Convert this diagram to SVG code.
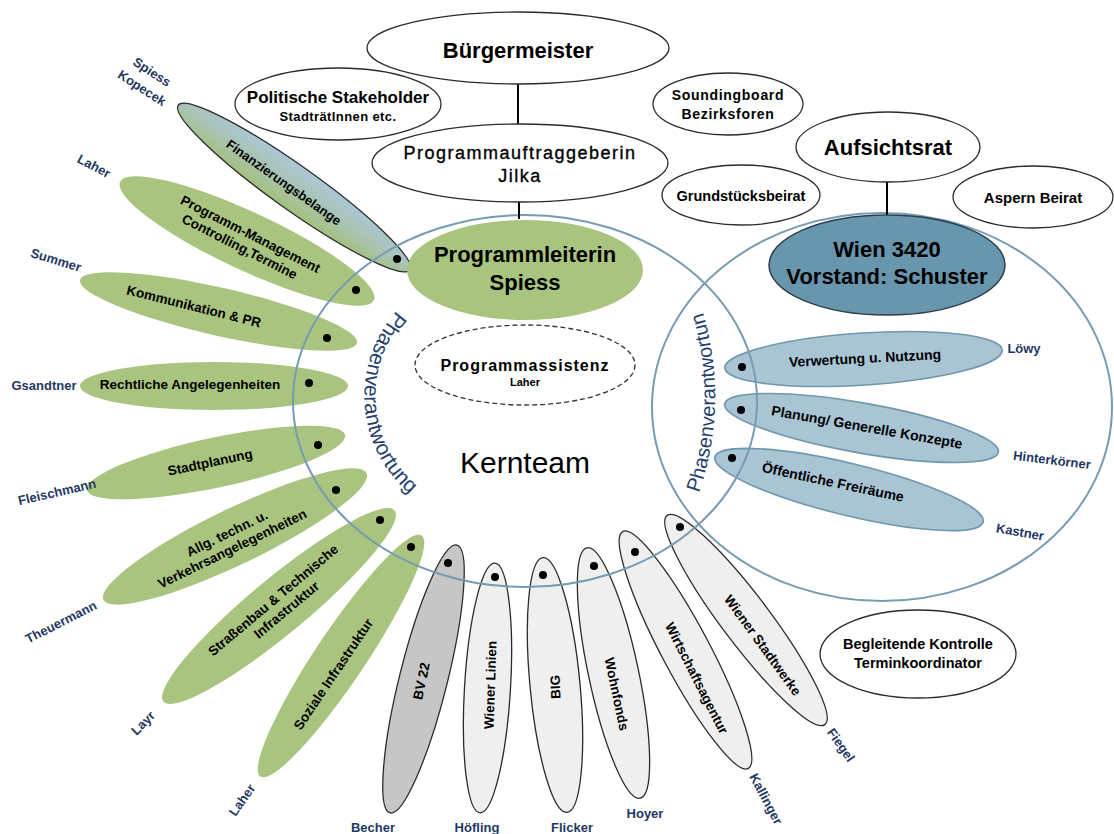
<svg xmlns="http://www.w3.org/2000/svg" width="1114" height="834" viewBox="0 0 1114 834">
<style>
text{font-family:"Liberation Sans",Arial,Helvetica,sans-serif;text-anchor:middle;fill:#000}
.b{font-weight:bold}
.pt{font-weight:bold;font-size:13.5px}
.rt{font-weight:bold;font-size:14px}
.lb{font-weight:bold;font-size:13px;fill:#1f3864}
.green{fill:#a9c47f}
.grey{fill:#efefef;stroke:#2b2b2b;stroke-width:1.3}
.dgrey{fill:#c6c6c6;stroke:#2b2b2b;stroke-width:1.3}
.blue{fill:#a9c4d3;stroke:#6f97ad;stroke-width:1.6}
.node{fill:#fff;stroke:#2b2b2b;stroke-width:1.3}
.ring{fill:none;stroke:#769bb2;stroke-width:2}
.ph{font-size:21px;fill:#1f3f6e}
.dot{fill:#000}
.con{stroke:#000;stroke-width:2;fill:none}
.med{font-size:18px;letter-spacing:1.5px;stroke:#000;stroke-width:0.35px}
</style>
<defs>
<linearGradient id="gFin" x1="0" y1="1" x2="0" y2="0">
<stop offset="0" stop-color="#a3c07a"/>
<stop offset="0.5" stop-color="#a9c3b2"/>
<stop offset="1" stop-color="#abc7d8"/>
</linearGradient>
<path id="arcL" d="M 396.6 311 A 128 128 0 0 0 417.7 500"/>
<path id="arcR" d="M 699 493 A 296 296 0 0 0 699 300"/>
</defs>
<rect width="1114" height="834" fill="#fff"/>

<!-- left petals -->
<g id="p-finanz">
<ellipse transform="translate(294 187.5) rotate(35.4)" rx="142" ry="22" fill="url(#gFin)" stroke="#2b2b2b" stroke-width="1.3"/>
<text class="pt" transform="translate(284 182) rotate(35.4)" y="5" style="font-size:13px">Finanzierungsbelange</text>
<circle class="dot" cx="397" cy="259" r="4"/>
<text class="lb" transform="translate(152 72) rotate(33)" y="4.5">Spiess</text>
<text class="lb" transform="translate(142 88) rotate(33)" y="4.5">Kopecek</text>
</g>
<g id="p-programm">
<ellipse class="green" transform="translate(247 241) rotate(25)" rx="140" ry="29"/>
<text class="pt" transform="translate(247 241) rotate(27)"><tspan x="0" y="-3">Programm-Management</tspan><tspan x="-4" y="13">Controlling,Termine</tspan></text>
<circle class="dot" cx="356" cy="290" r="4"/>
<text class="lb" transform="translate(94 166) rotate(28)" y="4.5">Laher</text>
</g>
<g id="p-komm">
<ellipse class="green" transform="translate(218.5 311.5) rotate(12.8)" rx="142" ry="24"/>
<text class="pt" transform="translate(194 306) rotate(14)" y="5">Kommunikation &amp; PR</text>
<circle class="dot" cx="327" cy="338" r="4"/>
<text class="lb" transform="translate(56 260) rotate(17)" y="4.5">Summer</text>
</g>
<g id="p-recht">
<ellipse class="green" cx="214" cy="386" rx="134" ry="24"/>
<text class="pt" x="190" y="389">Rechtliche Angelegenheiten</text>
<circle class="dot" cx="309" cy="383" r="4"/>
<text class="lb" x="44" y="390">Gsandtner</text>
</g>
<g id="p-stadt">
<ellipse class="green" transform="translate(216 462.5) rotate(-12)" rx="132" ry="25"/>
<text class="pt" transform="translate(210 462) rotate(-12)" y="5">Stadtplanung</text>
<circle class="dot" cx="318" cy="445" r="4"/>
<text class="lb" transform="translate(57 492) rotate(-13)" y="4.5">Fleischmann</text>
</g>
<g id="p-allg">
<ellipse class="green" transform="translate(235 536.5) rotate(-25.7)" rx="146" ry="28"/>
<text class="pt" transform="translate(229 542) rotate(-26)"><tspan x="2" y="-4">Allg. techn. u.</tspan><tspan x="0" y="12">Verkehrsangelegenheiten</tspan></text>
<circle class="dot" cx="336" cy="490" r="4"/>
<text class="lb" transform="translate(61 622) rotate(-27)" y="4.5">Theuermann</text>
</g>
<g id="p-strasse">
<ellipse class="green" transform="translate(279 606) rotate(-39.6)" rx="150" ry="28"/>
<text class="pt" transform="translate(278 606) rotate(-40)"><tspan x="0" y="-3">Straßenbau &amp; Technische</tspan><tspan x="4" y="13">Infrastruktur</tspan></text>
<circle class="dot" cx="380" cy="520" r="4"/>
<text class="lb" transform="translate(143 723) rotate(-45)" y="4.5">Layr</text>
</g>
<g id="p-sozial">
<ellipse class="green" transform="translate(341 656) rotate(-56.2)" rx="145" ry="25"/>
<text class="pt" transform="translate(333 674) rotate(-56)" y="5">Soziale Infrastruktur</text>
<circle class="dot" cx="411" cy="547" r="4"/>
<text class="lb" transform="translate(242 800) rotate(-55)" y="4.5">Laher</text>
</g>

<!-- bottom petals -->
<g id="p-bv22">
<ellipse class="dgrey" transform="translate(423.5 679) rotate(-76)" rx="138" ry="24"/>
<text class="pt" transform="translate(421 681) rotate(-78)" y="5">BV 22</text>
<circle class="dot" cx="448" cy="563" r="4"/>
<text class="lb" x="373" y="832">Becher</text>
</g>
<g id="p-linien">
<ellipse class="grey" transform="translate(487.5 688) rotate(-86.6)" rx="125" ry="23"/>
<text class="pt" transform="translate(490 685) rotate(-88)" y="5">Wiener Linien</text>
<circle class="dot" cx="495" cy="577" r="4"/>
<text class="lb" x="477" y="832">Höfling</text>
</g>
<g id="p-big">
<ellipse class="grey" transform="translate(555 685) rotate(-95.4)" rx="128" ry="25"/>
<text class="pt" transform="translate(555 687) rotate(-92)" y="5">BIG</text>
<circle class="dot" cx="543" cy="575" r="4"/>
<text class="lb" x="572" y="832">Flicker</text>
</g>
<g id="p-wohnfonds">
<ellipse class="grey" transform="translate(613.5 673) rotate(78)" rx="128" ry="25"/>
<text class="pt" transform="translate(617 694) rotate(78)" y="5">Wohnfonds</text>
<circle class="dot" cx="594" cy="566" r="4"/>
<text class="lb" x="645" y="818">Hoyer</text>
</g>
<g id="p-wirtschaft">
<ellipse class="grey" transform="translate(685.5 650) rotate(62.1)" rx="134" ry="24"/>
<text class="pt" transform="translate(697 678) rotate(63)" y="5">Wirtschaftsagentur</text>
<circle class="dot" cx="635" cy="552" r="4"/>
<text class="lb" transform="translate(766 799) rotate(62)" y="4.5">Kallinger</text>
</g>
<g id="p-stadtwerke">
<ellipse class="grey" transform="translate(746 620) rotate(53)" rx="131" ry="24"/>
<text class="pt" transform="translate(763 645) rotate(54)" y="5">Wiener Stadtwerke</text>
<circle class="dot" cx="680" cy="527" r="4"/>
<text class="lb" transform="translate(841 745) rotate(55)" y="4.5">Fiegel</text>
</g>

<!-- right petals -->
<g id="p-verwertung">
<ellipse class="blue" transform="translate(863.5 359) rotate(-3.7)" rx="139" ry="26"/>
<text class="rt" transform="translate(865 358) rotate(-3)" y="5">Verwertung u. Nutzung</text>
<circle class="dot" cx="742" cy="367" r="4"/>
<text class="lb" x="1024" y="353">Löwy</text>
</g>
<g id="p-planung">
<ellipse class="blue" transform="translate(861.5 428) rotate(10)" rx="139" ry="25"/>
<text class="rt" transform="translate(867 427) rotate(10)" y="5">Planung/ Generelle Konzepte</text>
<circle class="dot" cx="741" cy="410" r="4"/>
<text class="lb" transform="translate(1052 460) rotate(7)" y="4.5">Hinterkörner</text>
</g>
<g id="p-freiraeume">
<ellipse class="blue" transform="translate(849 489.5) rotate(13.6)" rx="138" ry="26"/>
<text class="rt" transform="translate(833 482) rotate(12)" y="5">Öffentliche Freiräume</text>
<circle class="dot" cx="732" cy="458" r="4"/>
<text class="lb" transform="translate(1020 532) rotate(10)" y="4.5">Kastner</text>
</g>

<!-- regions -->
<g id="regions">
<ellipse id="kernteam-ring" class="ring" cx="525" cy="401" rx="232" ry="186"/>
<ellipse id="wien-ring" class="ring" cx="882" cy="407" rx="230" ry="194"/>
<text class="ph" style="text-anchor:start"><textPath href="#arcL">Phasenverantwortung</textPath></text>
<text class="ph" style="text-anchor:start;font-size:20px"><textPath href="#arcR">Phasenverantwortun</textPath></text>
<text x="525" y="473" style="font-size:30px">Kernteam</text>
</g>

<!-- connectors -->
<g id="connectors">
<line class="con" x1="518" y1="84" x2="518" y2="125"/>
<line class="con" x1="519" y1="202" x2="519" y2="219"/>
<line class="con" x1="887" y1="182" x2="887" y2="215"/>
</g>

<!-- nodes -->
<g id="n-buergermeister">
<ellipse class="node" cx="518" cy="48" rx="151" ry="36"/>
<text class="b" x="518" y="58" style="font-size:22px">Bürgermeister</text>
</g>
<g id="n-politische">
<ellipse class="node" cx="338" cy="104" rx="103" ry="36"/>
<text class="b" x="338" y="103" style="font-size:17px">Politische Stakeholder</text>
<text class="b" x="338" y="121" style="font-size:13px;letter-spacing:0.4px">StadträtInnen etc.</text>
</g>
<g id="n-auftraggeberin">
<ellipse class="node" cx="520" cy="163" rx="148" ry="39"/>
<text class="med" x="520" y="159">Programmauftraggeberin</text>
<text class="med" x="520" y="182">Jilka</text>
</g>
<g id="n-soundingboard">
<ellipse class="node" cx="728" cy="104" rx="75" ry="31"/>
<text class="b" x="728" y="100" style="font-size:14px;letter-spacing:0.7px">Soundingboard</text>
<text class="b" x="728" y="119" style="font-size:14px;letter-spacing:0.7px">Bezirksforen</text>
</g>
<g id="n-aufsichtsrat">
<ellipse class="node" cx="888" cy="147" rx="92" ry="35"/>
<text class="b" x="888" y="155" style="font-size:22px">Aufsichtsrat</text>
</g>
<g id="n-grundstueck">
<ellipse class="node" cx="741" cy="195" rx="79" ry="30"/>
<text class="b" x="741" y="201" style="font-size:14.5px">Grundstücksbeirat</text>
</g>
<g id="n-aspern">
<ellipse class="node" cx="1033" cy="197" rx="80" ry="31"/>
<text class="b" x="1033" y="203" style="font-size:15px">Aspern Beirat</text>
</g>
<g id="n-programmleiterin">
<ellipse class="green" cx="525" cy="270" rx="118" ry="50"/>
<text class="b" x="525" y="262" style="font-size:22px">Programmleiterin</text>
<text class="b" x="525" y="290" style="font-size:22px">Spiess</text>
</g>
<g id="n-wien3420">
<ellipse cx="887" cy="265" rx="118" ry="50" fill="#6896ac" stroke="#2b3f4c" stroke-width="1.5"/>
<text class="b" x="887" y="257" style="font-size:22px">Wien 3420</text>
<text class="b" x="887" y="284" style="font-size:22px">Vorstand: Schuster</text>
</g>
<g id="n-assistenz">
<ellipse cx="525" cy="365" rx="110" ry="40" fill="none" stroke="#333" stroke-width="1.3" stroke-dasharray="5 3"/>
<text class="b" x="525" y="371" style="font-size:16px;letter-spacing:1px">Programmassistenz</text>
<text class="b" x="525" y="386" style="font-size:11px">Laher</text>
</g>
<g id="n-kontrolle">
<ellipse class="node" cx="918" cy="654" rx="98" ry="44"/>
<text class="b" x="918" y="649" style="font-size:14.5px">Begleitende Kontrolle</text>
<text class="b" x="918" y="668" style="font-size:14.5px">Terminkoordinator</text>
</g>
</svg>
